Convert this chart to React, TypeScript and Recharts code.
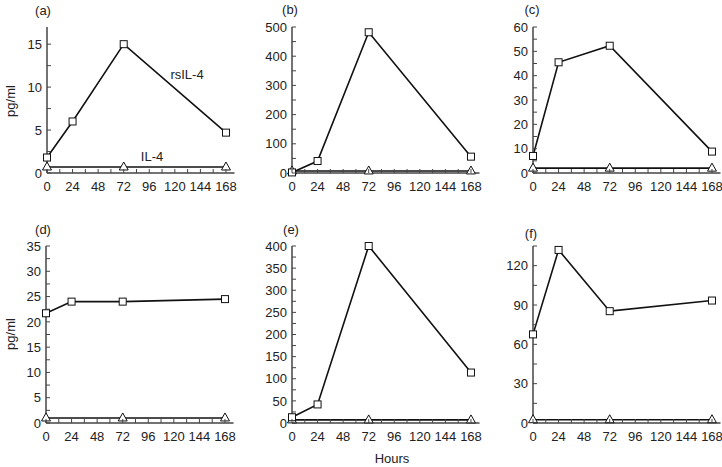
import { LineChart, Line, XAxis, YAxis } from "recharts";

// hours sampled
const rsHours = [0, 24, 72, 168];
const ilHours = [0, 72, 168];

// rsIL-4 (squares) per panel
const rsA = [1.8, 6.0, 15, 4.7];
const rsB = [2, 41, 482, 56];
const rsC = [7, 45.5, 52.3, 8.8];
const rsD = [21.7, 24, 24, 24.5];
const rsE = [13, 42, 400, 114];
const rsF = [67.6, 132, 85.3, 93.4];

// IL-4 (triangles) per panel
const ilA = [0.7, 0.7, 0.7];
const ilB = [7, 7, 7];
const ilC = [2, 2, 2];
const ilD = [1, 1, 1];
const ilE = [7, 7, 7];
const ilF = [2.5, 2.5, 2.5];

const xTicks = [0, 12, 24, 36, 48, 60, 72, 84, 96, 108, 120, 132, 144, 156, 168];
const xLabels = [0, 24, 48, 72, 96, 120, 144, 168];

const yTicksA = [0, 2.5, 5, 7.5, 10, 12.5, 15];
const yLabelsA = [0, 5, 10, 15];
const yTicksB = [0, 50, 100, 150, 200, 250, 300, 350, 400, 450, 500];
const yLabelsB = [0, 100, 200, 300, 400, 500];
const yTicksC = [0, 5, 10, 15, 20, 25, 30, 35, 40, 45, 50, 55, 60];
const yLabelsC = [0, 10, 20, 30, 40, 50, 60];
const yTicksD = [0, 2.5, 5, 7.5, 10, 12.5, 15, 17.5, 20, 22.5, 25, 27.5, 30, 32.5, 35];
const yLabelsD = [0, 5, 10, 15, 20, 25, 30, 35];
const yTicksE = [0, 25, 50, 75, 100, 125, 150, 175, 200, 225, 250, 275, 300, 325, 350, 375, 400];
const yLabelsE = [0, 50, 100, 150, 200, 250, 300, 350, 400];
const yTicksF = [0, 15, 30, 45, 60, 75, 90, 105, 120, 135];
const yLabelsF = [0, 30, 60, 90, 120];

const FONT = "'Liberation Sans', Arial, sans-serif";
const AXIS = "#444";
const PLOT_W = 187.5;
const Y_W = 45;
const PAD_T = 10;

const toRows = (hours: number[], vals: number[]) => hours.map((h, i) => ({ h, v: vals[i] }));

function Square(props: any) {
  const { cx, cy, index } = props;
  if (cx == null || cy == null) return <g key={`s${index}`} />;
  return (
    <rect key={`s${index}`} x={cx - 3.5} y={cy - 3.5} width={7} height={7} fill="#fff" stroke="#111" strokeWidth={1} />
  );
}

function Triangle(props: any) {
  const { cx, cy, index } = props;
  if (cx == null || cy == null) return <g key={`t${index}`} />;
  return (
    <path
      key={`t${index}`}
      d={`M${cx},${cy - 5} L${cx + 4.5},${cy + 3} L${cx - 4.5},${cy + 3} Z`}
      fill="#fff"
      stroke="#111"
      strokeWidth={1}
    />
  );
}

function makeYTick(labels: number[]) {
  return (props: any) => {
    const { x, y, payload } = props;
    const ax = x + 5;
    const show = labels.includes(payload.value);
    return (
      <g>
        <line x1={ax} x2={ax + 4} y1={y} y2={y} stroke={AXIS} strokeWidth={1} />
        {show && (
          <text x={x} y={y} dy="0.36em" textAnchor="end" fontSize={13} fontFamily={FONT} fill="#222">
            {payload.value}
          </text>
        )}
      </g>
    );
  };
}

function XTick(props: any) {
  const { x, y, payload } = props;
  const ay = y - 9;
  const show = xLabels.includes(payload.value);
  return (
    <g>
      <line x1={x} x2={x} y1={ay} y2={ay - 4} stroke={AXIS} strokeWidth={1} />
      {show && (
        <text x={x} y={y} dy="0.71em" textAnchor="middle" fontSize={13} fontFamily={FONT} fill="#222">
          {payload.value}
        </text>
      )}
    </g>
  );
}

interface PanelProps {
  left: number;
  top: number;
  height: number;
  rs: number[];
  il: number[];
  yMax: number;
  yTicks: number[];
  yLabels: number[];
}

function Panel({ left, top, height, rs, il, yMax, yTicks, yLabels }: PanelProps) {
  return (
    <div style={{ position: "absolute", left: left - Y_W, top: top - PAD_T }}>
      <LineChart
        width={Y_W + PLOT_W + 5}
        height={PAD_T + height + 25}
        margin={{ top: PAD_T, right: 5, bottom: 0, left: 0 }}
      >
        <XAxis
          type="number"
          dataKey="h"
          domain={[0, 176]}
          ticks={xTicks}
          interval={0}
          tickSize={0}
          tickMargin={9}
          tickLine={false}
          tick={XTick}
          height={25}
          stroke={AXIS}
          strokeWidth={1.5}
          allowDuplicatedCategory={false}
        />
        <YAxis
          type="number"
          domain={[0, yMax]}
          ticks={yTicks}
          interval={0}
          tickSize={0}
          tickMargin={5}
          tickLine={false}
          tick={makeYTick(yLabels)}
          width={Y_W}
          stroke={AXIS}
          strokeWidth={1.5}
        />
        <Line
          data={toRows(ilHours, il)}
          dataKey="v"
          stroke="#111"
          strokeWidth={1.6}
          dot={Triangle}
          activeDot={false}
          isAnimationActive={false}
        />
        <Line
          data={toRows(rsHours, rs)}
          dataKey="v"
          stroke="#111"
          strokeWidth={1.6}
          dot={Square}
          activeDot={false}
          isAnimationActive={false}
        />
      </LineChart>
    </div>
  );
}

const txt = { fontFamily: FONT, fill: "#222" };

export default function App() {
  return (
    <div style={{ position: "absolute", left: 0, top: 0, width: 722, height: 467, background: "#fff", overflow: "hidden" }}>
      <Panel left={47} top={27} height={146} rs={rsA} il={ilA} yMax={17} yTicks={yTicksA} yLabels={yLabelsA} />
      <Panel left={292} top={27} height={146} rs={rsB} il={ilB} yMax={500} yTicks={yTicksB} yLabels={yLabelsB} />
      <Panel left={533} top={27} height={146} rs={rsC} il={ilC} yMax={60} yTicks={yTicksC} yLabels={yLabelsC} />
      <Panel left={46} top={246} height={177} rs={rsD} il={ilD} yMax={35} yTicks={yTicksD} yLabels={yLabelsD} />
      <Panel left={292} top={246} height={177} rs={rsE} il={ilE} yMax={400} yTicks={yTicksE} yLabels={yLabelsE} />
      <Panel left={533} top={246} height={177} rs={rsF} il={ilF} yMax={135} yTicks={yTicksF} yLabels={yLabelsF} />
      <svg width={722} height={467} style={{ position: "absolute", left: 0, top: 0, pointerEvents: "none" }}>
        <text x={43} y={10} dy="0.36em" textAnchor="middle" fontSize={13} {...txt}>(a)</text>
        <text x={290} y={9} dy="0.36em" textAnchor="middle" fontSize={13} {...txt}>(b)</text>
        <text x={532} y={9} dy="0.36em" textAnchor="middle" fontSize={13} {...txt}>(c)</text>
        <text x={43} y={229} dy="0.36em" textAnchor="middle" fontSize={13} {...txt}>(d)</text>
        <text x={291} y={229} dy="0.36em" textAnchor="middle" fontSize={13} {...txt}>(e)</text>
        <text x={531} y={233} dy="0.36em" textAnchor="middle" fontSize={13} {...txt}>(f)</text>
        <text x={187} y={74} dy="0.36em" textAnchor="middle" fontSize={13} {...txt}>rsIL-4</text>
        <text x={152} y={156} dy="0.36em" textAnchor="middle" fontSize={13} {...txt}>IL-4</text>
        <text x={392} y={458} dy="0.36em" textAnchor="middle" fontSize={13} {...txt}>Hours</text>
        <text x={10} y={101} dy="0.36em" textAnchor="middle" fontSize={13} transform="rotate(-90 10 101)" {...txt}>pg/ml</text>
        <text x={10} y={334} dy="0.36em" textAnchor="middle" fontSize={13} transform="rotate(-90 10 334)" {...txt}>pg/ml</text>
      </svg>
    </div>
  );
}
